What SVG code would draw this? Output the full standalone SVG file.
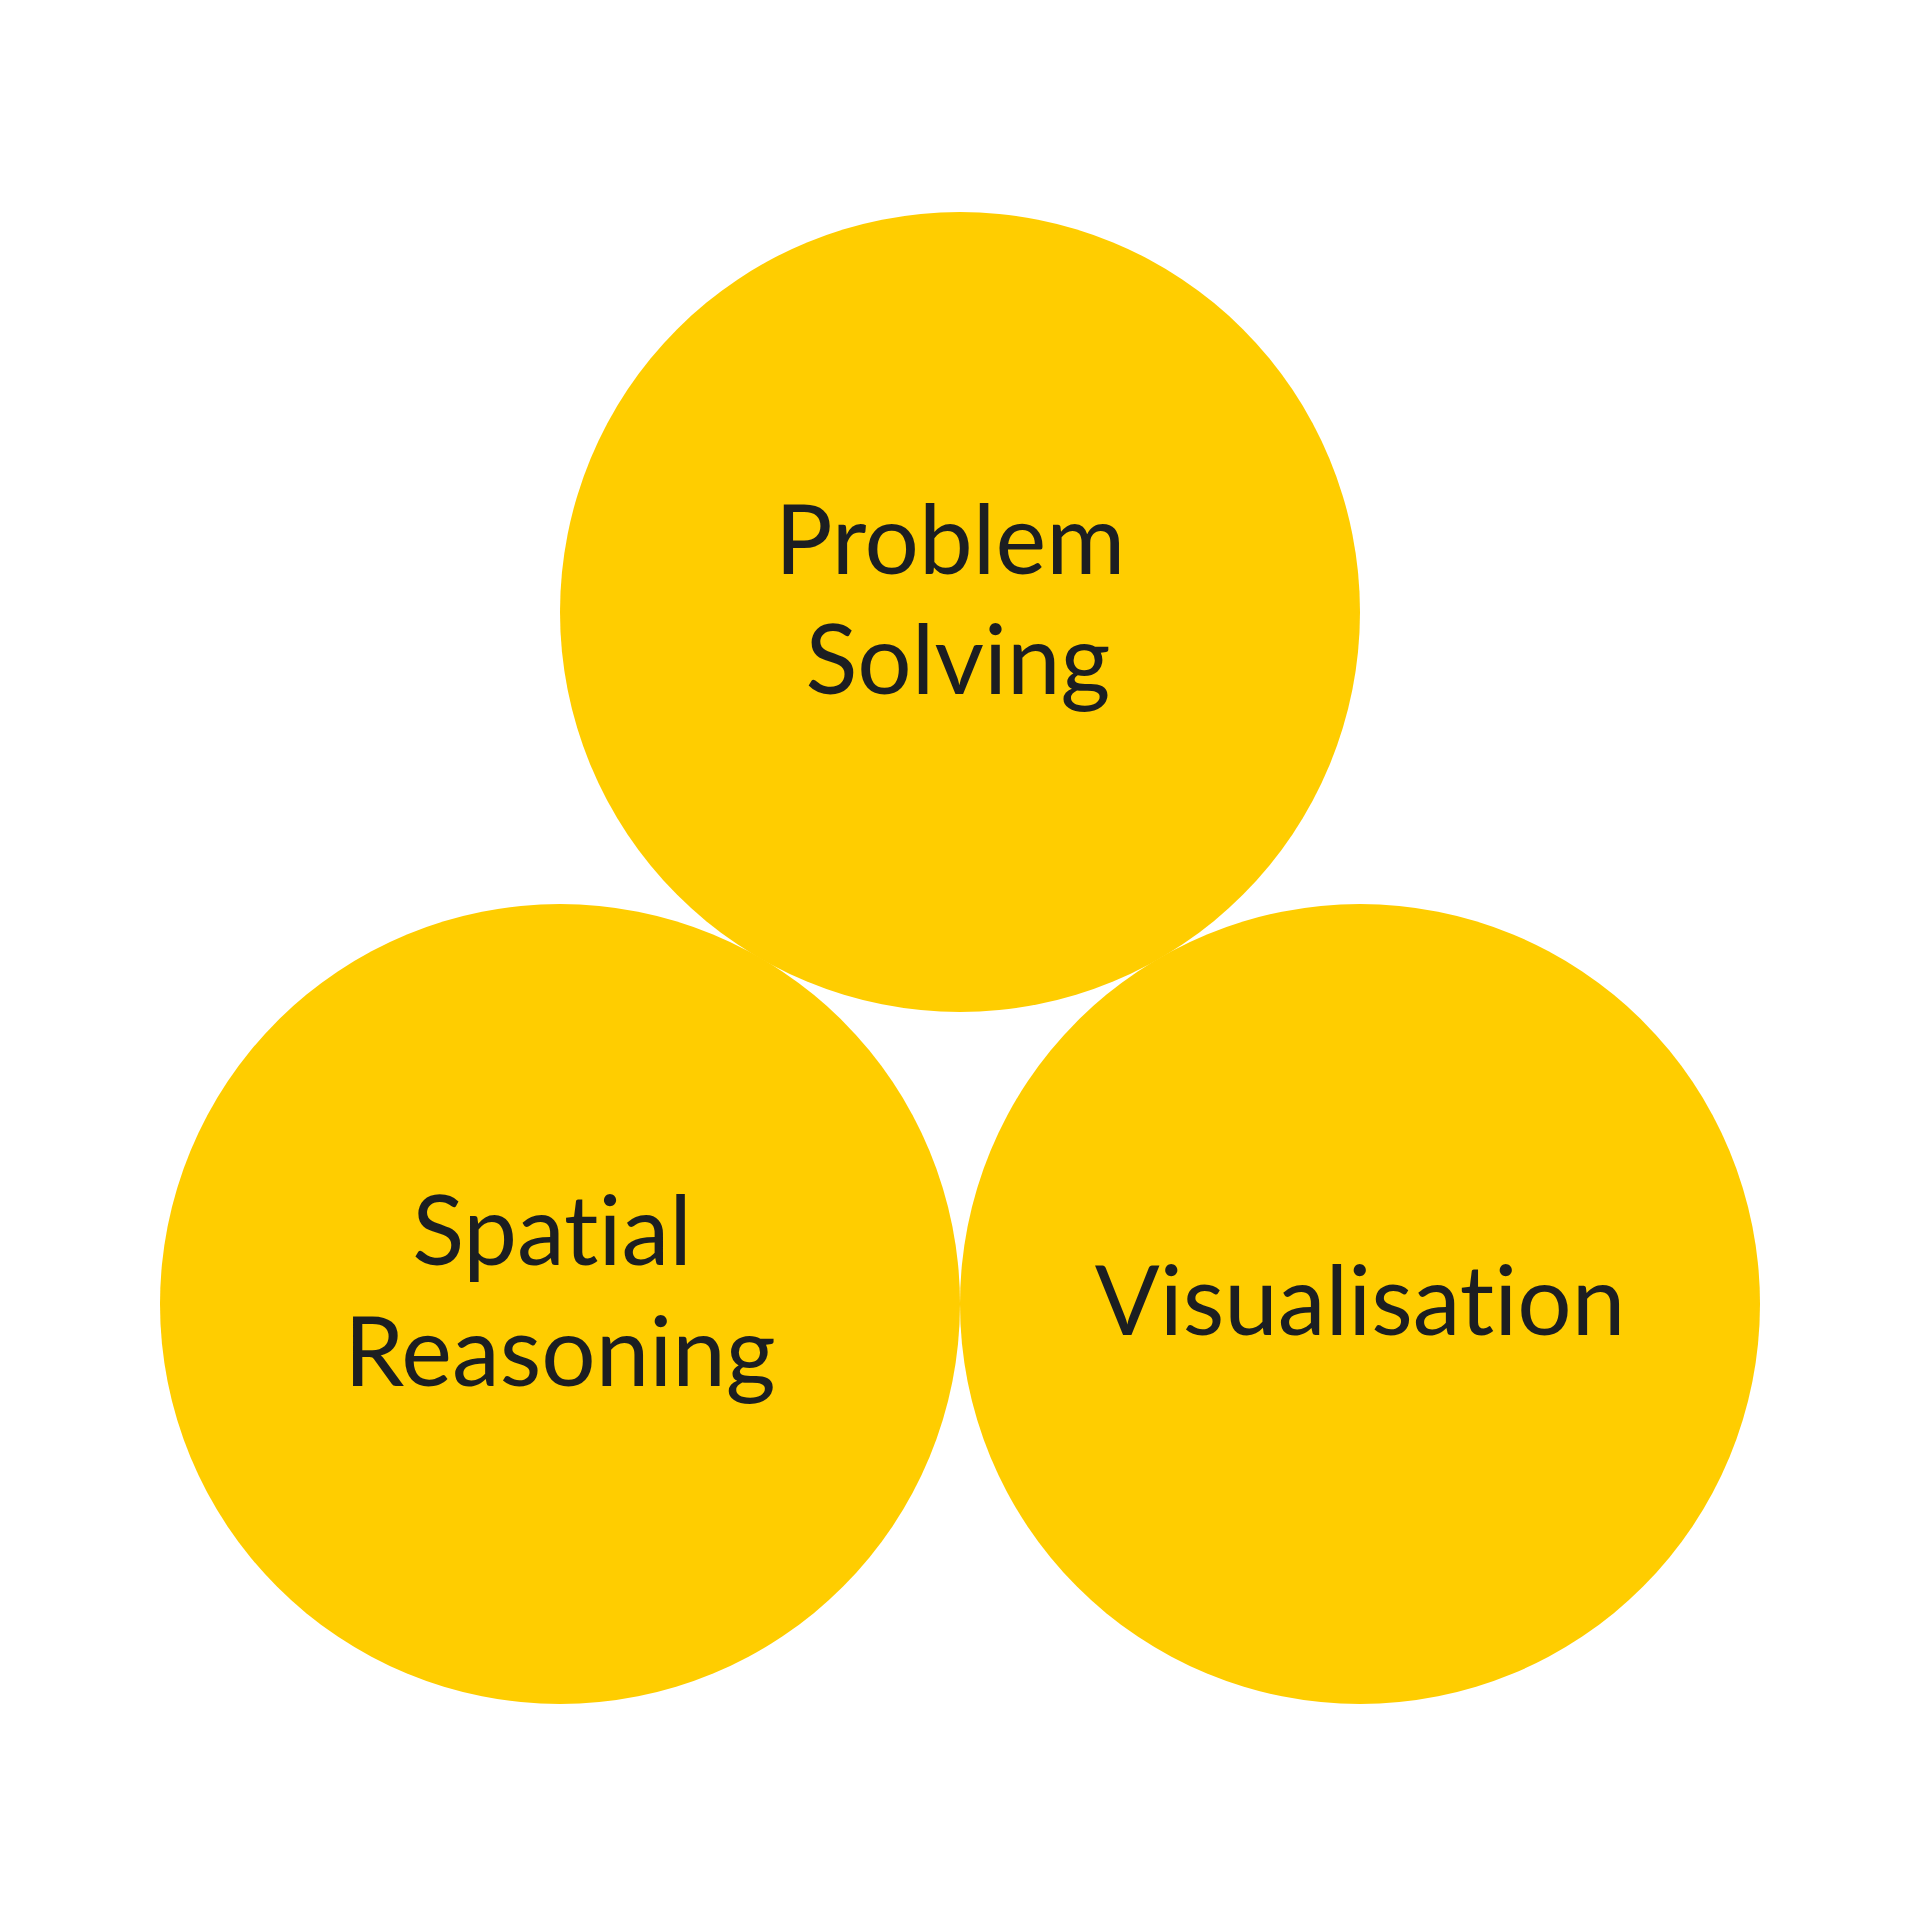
<svg xmlns="http://www.w3.org/2000/svg" width="1920" height="1920" viewBox="0 0 1920 1920">
<style>
.c{fill:#FFCD00}
.t{font-family:Lato,"Noto Sans",sans-serif;font-size:96px;fill:#1c1e21;text-anchor:middle;font-variant-ligatures:none;font-feature-settings:"liga" 0,"dlig" 0}
</style>
<rect width="1920" height="1920" fill="#fff"/>
<g id="problem-solving">
<circle class="c" cx="960" cy="612" r="400"/>
<text class="t" x="950" y="574">Problem</text>
<text class="t" x="958" y="694">Solving</text>
</g>
<g id="spatial-reasoning">
<circle class="c" cx="560" cy="1304" r="400"/>
<text class="t" x="552" y="1265">Spatial</text>
<text class="t" x="560" y="1386">Reasoning</text>
</g>
<g id="visualisation">
<circle class="c" cx="1360" cy="1304" r="400"/>
<text class="t" x="1360" y="1335">Visualisation</text>
</g>
<g id="connectors"></g>
</svg>
